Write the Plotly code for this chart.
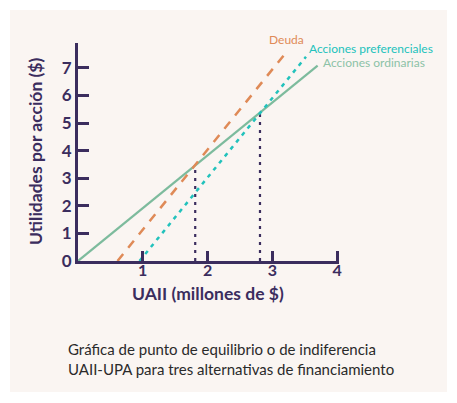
import plotly.graph_objects as go

# ---- data ----
ordinarias_x = [0.0, 3.70]
ordinarias_y = [0.0, 7.08]
deuda_x = [0.61, 3.20]
deuda_y = [0.0, 7.52]
preferenciales_x = [0.95, 3.52]
preferenciales_y = [0.0, 7.40]
indiferencia_x = [1.81, 2.81]
indiferencia_y = [3.48, 5.37]
x_ticks = [1, 2, 3, 4]
x_tick_labels = ["1", "2", "3", "4"]
y_ticks = [0, 1, 2, 3, 4, 5, 6, 7]
y_tick_labels = ["0", "1", "2", "3", "4", "5", "6", "7"]

W, H = 457, 403
L, R, T, B = 78, 118, 43, 142
PW, PH = W - L - R, H - T - B
X_MAX = 4.03

def px(xp):
    return (xp - L) / PW

def py(yp):
    return (H - B - yp) / PH

PURPLE = "#3b2d5e"
ORANGE = "#df8a57"
TEAL = "#22c2bc"
GREEN = "#7dbb9d"
FONT = "Lato"

fig = go.Figure()

# vertical indifference guides
for xv, yv in zip(indiferencia_x, indiferencia_y):
    fig.add_trace(go.Scatter(x=[xv, xv], y=[0, yv], mode="lines",
                             line=dict(color=PURPLE, width=2.2, dash="3px,5px"),
                             hoverinfo="skip", showlegend=False))

fig.add_trace(go.Scatter(x=ordinarias_x, y=ordinarias_y, mode="lines",
                         line=dict(color=GREEN, width=2.2), showlegend=False))
fig.add_trace(go.Scatter(x=deuda_x, y=deuda_y, mode="lines",
                         line=dict(color=ORANGE, width=2.5, dash="9px,8px"), showlegend=False))
fig.add_trace(go.Scatter(x=preferenciales_x, y=preferenciales_y, mode="lines",
                         line=dict(color=TEAL, width=2.5, dash="4px,5px"), showlegend=False))

shapes = [dict(type="rect", xref="paper", yref="paper", layer="below",
               x0=px(10), x1=px(447), y0=py(392), y1=py(10),
               fillcolor="#faf5f2", line=dict(width=0))]

annotations = [
    dict(text="Deuda", x=px(286), y=py(40), xref="paper", yref="paper", showarrow=False,
         font=dict(family=FONT, size=12, color=ORANGE), xanchor="center", yanchor="middle"),
    dict(text="Acciones preferenciales", x=px(307), y=py(49), xref="paper", yref="paper", showarrow=False,
         font=dict(family=FONT, size=12, color=TEAL), xanchor="left", yanchor="middle"),
    dict(text="Acciones ordinarias", x=px(321), y=py(62), xref="paper", yref="paper", showarrow=False,
         font=dict(family=FONT, size=12, color="#8cc2a7"), xanchor="left", yanchor="middle"),
    dict(text="<b>UAII (millones de $)</b>", x=px(208), y=py(293), xref="paper", yref="paper", showarrow=False,
         font=dict(family=FONT, size=17.5, color=PURPLE), xanchor="center", yanchor="middle"),
    dict(text="<b>Utilidades por acción ($)</b>", x=px(35), y=py(152), xref="paper", yref="paper", showarrow=False,
         textangle=-90, font=dict(family=FONT, size=17.5, color=PURPLE), xanchor="center", yanchor="middle"),
    dict(text="Gráfica de punto de equilibrio o de indiferencia", x=px(66), y=py(349), xref="paper", yref="paper",
         showarrow=False, font=dict(family=FONT, size=15, color="#2a2a2a"), xanchor="left", yanchor="middle"),
    dict(text="UAII-UPA para tres alternativas de financiamiento", x=px(66), y=py(369), xref="paper", yref="paper",
         showarrow=False, font=dict(family=FONT, size=15, color="#2a2a2a"), xanchor="left", yanchor="middle"),
]

fig.update_layout(
    width=W, height=H,
    margin=dict(l=L, r=R, t=T, b=B, pad=0),
    paper_bgcolor="white", plot_bgcolor="rgba(0,0,0,0)",
    shapes=shapes, annotations=annotations,
    xaxis=dict(range=[0, X_MAX], tickvals=x_ticks, ticktext=["<b>%s</b>" % t for t in x_tick_labels],
               ticks="inside", ticklen=10, tickwidth=3,
               tickcolor=PURPLE, showline=True, linecolor=PURPLE, linewidth=3,
               showgrid=False, zeroline=False, ticklabelstandoff=-7,
               tickfont=dict(family=FONT, size=16, color=PURPLE)),
    yaxis=dict(range=[0, 7.9], tickvals=y_ticks, ticktext=["<b>%s</b>" % t for t in y_tick_labels],
               ticks="inside", ticklen=11, tickwidth=3,
               tickcolor=PURPLE, showline=True, linecolor=PURPLE, linewidth=3,
               showgrid=False, zeroline=False, ticklabelstandoff=0,
               tickfont=dict(family=FONT, size=17, color=PURPLE)),
)

fig.write_html("out.html")
